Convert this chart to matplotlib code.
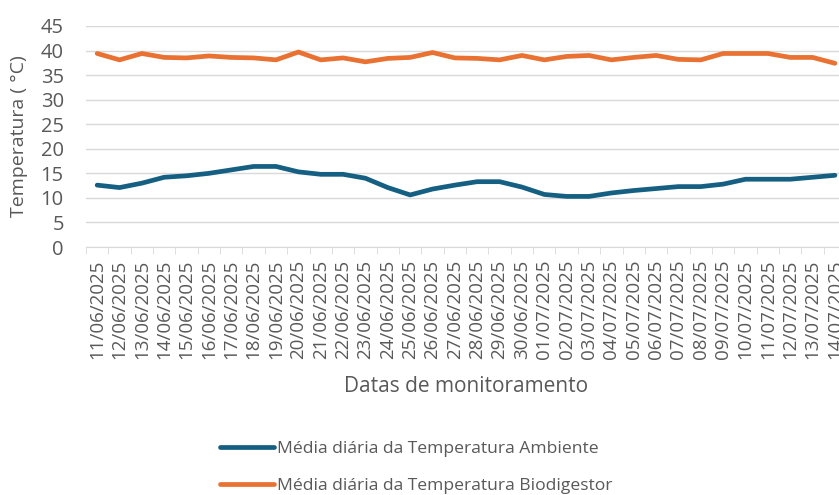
import matplotlib.pyplot as plt

# Daily dates (11/06/2025 -> 14/07/2025)
dates = ['11/06/2025', '12/06/2025', '13/06/2025', '14/06/2025', '15/06/2025',
         '16/06/2025', '17/06/2025', '18/06/2025', '19/06/2025', '20/06/2025',
         '21/06/2025', '22/06/2025', '23/06/2025', '24/06/2025', '25/06/2025',
         '26/06/2025', '27/06/2025', '28/06/2025', '29/06/2025', '30/06/2025',
         '01/07/2025', '02/07/2025', '03/07/2025', '04/07/2025', '05/07/2025',
         '06/07/2025', '07/07/2025', '08/07/2025', '09/07/2025', '10/07/2025',
         '11/07/2025', '12/07/2025', '13/07/2025', '14/07/2025']

# Daily mean temperatures (°C)
ambiente = [12.6, 12.1, 13.0, 14.2, 14.5, 15.0, 15.7, 16.4, 16.4, 15.3,
            14.8, 14.8, 14.0, 12.1, 10.6, 11.8, 12.6, 13.3, 13.3, 12.2,
            10.7, 10.3, 10.3, 11.0, 11.5, 11.9, 12.3, 12.3, 12.8, 13.8,
            13.8, 13.8, 14.2, 14.6]
biodigestor = [39.4, 38.1, 39.4, 38.6, 38.5, 38.9, 38.6, 38.5, 38.1, 39.7,
               38.1, 38.5, 37.7, 38.4, 38.6, 39.6, 38.5, 38.4, 38.1, 39.0,
               38.1, 38.8, 39.0, 38.1, 38.6, 39.0, 38.2, 38.1, 39.4, 39.4,
               39.4, 38.6, 38.6, 37.4]

plt.rcParams['font.family'] = ['Open Sans', 'DejaVu Sans']
gray = '#595959'

fig = plt.figure(figsize=(8.39, 4.95), dpi=100)
ax = fig.add_axes([0.1025, 0.501, 0.906, 0.4465])

x = range(len(dates))
ax.plot(x, ambiente, color='#156082', linewidth=3.4, solid_capstyle='round',
        label='Média diária da Temperatura Ambiente')
ax.plot(x, biodigestor, color='#E97132', linewidth=3.4, solid_capstyle='round',
        label='Média diária da Temperatura Biodigestor')

ax.set_xlim(-0.5, len(dates) - 0.5)
ax.set_ylim(0, 45)
ax.set_yticks(range(0, 46, 5))
ax.grid(axis='y', color='#D9D9D9', linewidth=1)
ax.set_axisbelow(True)

# category labels at centres, tick marks between categories
ax.set_xticks(list(x))
ax.set_xticklabels(dates, rotation=90, fontsize=13.5, color=gray)
ax.set_xticks([i - 0.5 for i in range(len(dates) + 1)], minor=True)
ax.tick_params(axis='x', which='major', length=0, pad=9)
ax.tick_params(axis='x', which='minor', length=5, color='#D9D9D9')
ax.tick_params(axis='y', length=0, labelsize=14.5, labelcolor=gray, pad=16)

for side in ['top', 'right', 'left']:
    ax.spines[side].set_visible(False)
ax.spines['bottom'].set_color('#D9D9D9')

ax.set_ylabel('Temperatura ( °C)', fontsize=14, color=gray, labelpad=9)
ax.set_xlabel('Datas de monitoramento', fontsize=15, color=gray, labelpad=12)

fig.legend(loc='center', bbox_to_anchor=(0.496, 0.0555), ncol=1, frameon=False,
           fontsize=12.6, labelcolor=gray, handlelength=3.1, handletextpad=0.15,
           labelspacing=1.2)

plt.savefig('out.png', dpi=100)
